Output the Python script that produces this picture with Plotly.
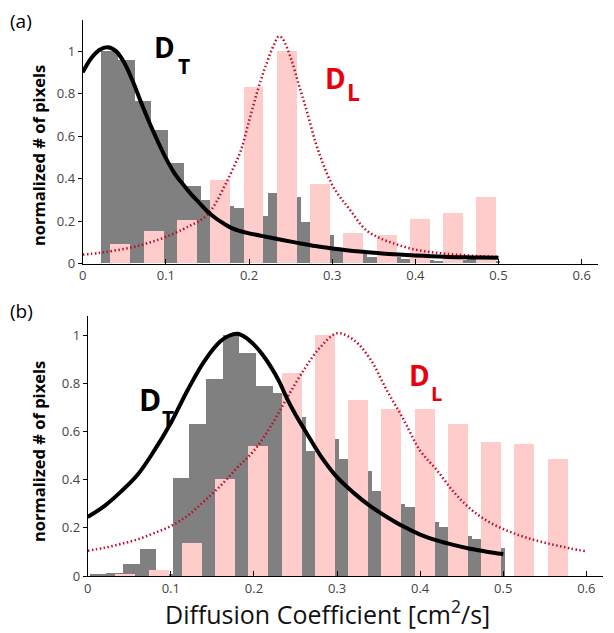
import plotly.graph_objects as go

# ---------------- data ----------------
# gray histogram (D_T), bin centers and normalized counts
gray_centers = [0.012 + 0.02 * k for k in range(25)]
gray_a = [0.0, 1.0, 0.955, 0.766, 0.628, 0.473, 0.3625, 0.297, 0.27, 0.258,
          0.222, 0.332, 0.312, 0.194, 0.132, 0.062, 0.045, 0.031, 0.028, 0.02,
          0.015, 0.01, 0.015, 0.022, 0.012]
gray_b = [0.008, 0.012, 0.05, 0.114, 0.01, 0.408, 0.63, 0.816, 1.0, 0.924,
          0.788, 0.758, 0.658, 0.519, 0.567, 0.487, 0.436, 0.354, 0.30, 0.285,
          0.225, 0.205, 0.166, 0.154, 0.116]

# pink histogram (D_L)
pink_centers_a = [0.045 + 0.04 * k for k in range(12)]
pink_a = [0.09, 0.153, 0.203, 0.39, 0.83, 1.0, 0.373, 0.14, 0.133, 0.21, 0.235, 0.31]
pink_centers_b = [0.045 + 0.04 * k for k in range(14)]
pink_b = [0.008, 0.025, 0.136, 0.404, 0.539, 0.841, 1.0, 0.73, 0.692, 0.692,
          0.631, 0.555, 0.546, 0.485]

# fitted curves
dt_x_a = [0, 0.01, 0.02, 0.03, 0.04, 0.05, 0.06, 0.07, 0.08, 0.09, 0.10, 0.11,
          0.12, 0.13, 0.14, 0.15, 0.16, 0.17, 0.18, 0.19, 0.20, 0.22, 0.24, 0.26,
          0.28, 0.30, 0.32, 0.34, 0.36, 0.38, 0.40, 0.42, 0.44, 0.46, 0.48, 0.50]
dt_y_a = [0.90, 0.965, 1.005, 1.018, 1.0, 0.945, 0.86, 0.76, 0.665, 0.577, 0.496,
          0.427, 0.375, 0.328, 0.286, 0.245, 0.213, 0.187, 0.165, 0.152, 0.142,
          0.126, 0.111, 0.096, 0.082, 0.071, 0.061, 0.054, 0.047, 0.042, 0.038,
          0.034, 0.031, 0.029, 0.028, 0.027]

dl_x_a = [0, 0.02, 0.04, 0.06, 0.08, 0.10, 0.12, 0.13, 0.14, 0.15, 0.16, 0.17,
          0.18, 0.19, 0.20, 0.21, 0.22, 0.23, 0.236, 0.24, 0.25, 0.26, 0.27, 0.28,
          0.29, 0.30, 0.31, 0.32, 0.34, 0.36, 0.38, 0.40, 0.42, 0.44, 0.46, 0.48, 0.50]
dl_y_a = [0.042, 0.05, 0.062, 0.077, 0.098, 0.125, 0.16, 0.18, 0.2, 0.23, 0.285,
          0.36, 0.44, 0.53, 0.67, 0.81, 0.93, 1.03, 1.07, 1.06, 0.97, 0.84, 0.71,
          0.57, 0.46, 0.37, 0.31, 0.26, 0.16, 0.115, 0.087, 0.065, 0.053, 0.045,
          0.039, 0.034, 0.031]

dt_x_b = [0, 0.02, 0.04, 0.06, 0.08, 0.10, 0.12, 0.14, 0.16, 0.17, 0.18, 0.19,
          0.20, 0.21, 0.22, 0.23, 0.24, 0.25, 0.26, 0.27, 0.28, 0.30, 0.32, 0.34,
          0.36, 0.38, 0.40, 0.42, 0.44, 0.46, 0.48, 0.50]
dt_y_b = [0.245, 0.29, 0.35, 0.42, 0.52, 0.635, 0.77, 0.89, 0.975, 0.997, 1.005,
          0.99, 0.96, 0.92, 0.87, 0.81, 0.735, 0.67, 0.612, 0.555, 0.50, 0.41,
          0.345, 0.29, 0.245, 0.205, 0.172, 0.148, 0.129, 0.113, 0.101, 0.091]

dl_x_b = [0, 0.02, 0.04, 0.06, 0.08, 0.10, 0.12, 0.14, 0.16, 0.18, 0.20, 0.22,
          0.24, 0.26, 0.28, 0.30, 0.32, 0.34, 0.36, 0.38, 0.40, 0.42, 0.44, 0.46,
          0.48, 0.50, 0.52, 0.54, 0.56, 0.58, 0.60]
dl_y_b = [0.105, 0.117, 0.133, 0.152, 0.178, 0.207, 0.25, 0.31, 0.375, 0.45, 0.52,
          0.62, 0.74, 0.855, 0.95, 1.007, 0.98, 0.9, 0.77, 0.65, 0.52, 0.44, 0.35,
          0.28, 0.23, 0.195, 0.168, 0.147, 0.13, 0.115, 0.102]

x_ticks = [0, 0.1, 0.2, 0.3, 0.4, 0.5, 0.6]
x_ticktext = ["0", "0.1", "0.2", "0.3", "0.4", "0.5", "0.6"]
y_ticks = [0, 0.2, 0.4, 0.6, 0.8, 1.0]
y_ticktext = ["0", "0.2", "0.4", "0.6", "0.8", "1"]

# ---------------- styles ----------------
# page body has an 8px margin: the figure is placed at (8, 8)
OFF = 8
W, H = 614 - OFF, 633 - OFF
GRAY = "#808080"
PINK = "#ffcccc"
RED_DOT = "#c00a23"
RED_TXT = "#e8000b"
GRAY_W = 0.02
PINK_W = 0.024


def px(X):
    return (X - OFF) / W


def py(Y):
    return 1 - (Y - OFF) / H


fig = go.Figure()

for xa, ya, gy, pc, pv, dtx, dty, dlx, dly in [
    ("x", "y", gray_a, pink_centers_a, pink_a, dt_x_a, dt_y_a, dl_x_a, dl_y_a),
    ("x2", "y2", gray_b, pink_centers_b, pink_b, dt_x_b, dt_y_b, dl_x_b, dl_y_b),
]:
    fig.add_trace(go.Bar(x=gray_centers, y=gy, width=[GRAY_W] * len(gy),
                         marker=dict(color=GRAY, line=dict(width=0)),
                         xaxis=xa, yaxis=ya, showlegend=False))
    fig.add_trace(go.Bar(x=pc, y=pv, width=[PINK_W] * len(pv),
                         marker=dict(color=PINK, line=dict(width=0)),
                         xaxis=xa, yaxis=ya, showlegend=False))
    fig.add_trace(go.Scatter(x=dlx, y=dly, mode="lines",
                             line=dict(color=RED_DOT, width=2.5, dash="1.5px,2.5px",
                                       shape="spline", smoothing=1.0),
                             xaxis=xa, yaxis=ya, showlegend=False))
    fig.add_trace(go.Scatter(x=dtx, y=dty, mode="lines",
                             line=dict(color="black", width=4, shape="spline",
                                       smoothing=1.0),
                             xaxis=xa, yaxis=ya, showlegend=False))

tickfont = dict(family="Open Sans, DejaVu Sans, sans-serif", size=13, color="#444444")
common_x = dict(range=[0, 0.62], tickvals=x_ticks, ticktext=x_ticktext,
                showline=True, linecolor="black", linewidth=1, ticks="inside",
                ticklen=5, tickcolor="black", showgrid=False, zeroline=False,
                tickfont=tickfont, fixedrange=True)
common_y = dict(tickvals=y_ticks, ticktext=y_ticktext, showline=True,
                linecolor="black", linewidth=1, ticks="outside", ticklen=4,
                tickcolor="black", showgrid=False, zeroline=False,
                tickfont=tickfont, fixedrange=True)

fig.update_layout(
    width=W, height=H,
    margin=dict(l=0, r=0, t=0, b=0, autoexpand=False),
    paper_bgcolor="white", plot_bgcolor="white",
    barmode="overlay", bargap=0,
    xaxis=dict(domain=[px(82.7), px(598.3)], anchor="y", **common_x),
    yaxis=dict(domain=[py(263.5), py(20.3)], range=[0, 1.145],
               anchor="x", **common_y),
    xaxis2=dict(domain=[px(87.7), px(603)], anchor="y2", **common_x),
    yaxis2=dict(domain=[py(576), py(316)], range=[0, 1.079],
                anchor="x2", **common_y),
)

font_main = "Open Sans, DejaVu Sans, sans-serif"
ann = []


def add(text, x, y, size, color="black", xanchor="center", yanchor="middle", angle=0):
    ann.append(dict(text=text, x=px(x), y=py(y), xref="paper", yref="paper",
                    showarrow=False, xanchor=xanchor, yanchor=yanchor,
                    textangle=angle, font=dict(family=font_main, size=size, color=color)))


add("(a)", 21, 21, 19)
add("(b)", 21, 311, 19)
add("<b>normalized # of pixels</b>", 38, 156, 16.5, angle=-90)
add("<b>normalized # of pixels</b>", 38, 452, 16.5, angle=-90)
add("Diffusion Coefficient [cm<sup>2</sup>/s]", 327, 612, 25, color="#111111",
    yanchor="middle")
# D_T / D_L labels: main letter + subscript letter
add("<b>D</b>", 152, 47, 28, xanchor="left")
add("<b>T</b>", 176, 66, 21, xanchor="left")
add("<b>D</b>", 323, 78, 28, color=RED_TXT, xanchor="left")
add("<b>L</b>", 345, 92, 23, color=RED_TXT, xanchor="left")
add("<b>D</b>", 137, 399, 30, xanchor="left")
add("<b>T</b>", 160, 418, 21, xanchor="left")
add("<b>D</b>", 407, 375, 28, color=RED_TXT, xanchor="left")
add("<b>L</b>", 429, 393, 20, color=RED_TXT, xanchor="left")
fig.update_layout(annotations=ann)

fig.write_html("out.html")
